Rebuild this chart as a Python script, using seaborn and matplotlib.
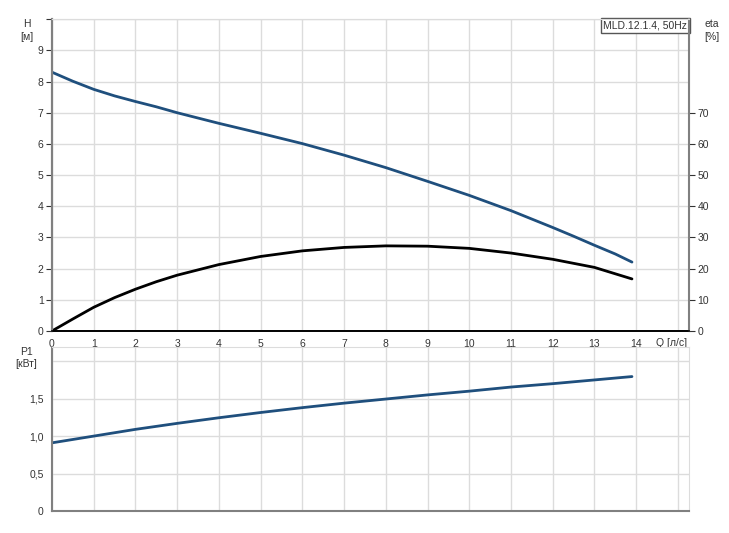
import numpy as np
import pandas as pd
import matplotlib
matplotlib.use("Agg")
import matplotlib.pyplot as plt
import seaborn as sns

# Data
q_h = [0, 0.5, 1, 1.5, 2, 2.5, 3, 4, 5, 6, 7, 8, 9, 10, 11, 12, 12.5, 13, 13.5, 13.9]
head = [8.3, 8.01, 7.75, 7.54, 7.36, 7.19, 7.0, 6.66, 6.34, 6.01, 5.64, 5.24, 4.8, 4.35, 3.86, 3.32, 3.04, 2.75, 2.47, 2.21]

q_eta = [0, 0.5, 1, 1.5, 2, 2.5, 3, 4, 5, 6, 7, 8, 9, 10, 11, 12, 13, 13.9]
eta = [0, 3.85, 7.6, 10.7, 13.4, 15.8, 17.9, 21.3, 23.9, 25.7, 26.8, 27.3, 27.2, 26.5, 25.0, 23.0, 20.4, 16.7]

q_p = [0, 1, 2, 3, 4, 5, 6, 7, 8, 9, 10, 11, 12, 13, 13.9]
p1 = [0.91, 1.0, 1.09, 1.17, 1.245, 1.315, 1.38, 1.44, 1.495, 1.55, 1.60, 1.655, 1.70, 1.75, 1.795]

x_ticks = list(range(0, 15))
h_ticks = list(range(0, 10))
eta_ticks = [0, 10, 20, 30, 40, 50, 60, 70]
p_ticks = [0, 0.5, 1.0, 1.5, 2.0]
p_labels = ["0", "0,5", "1,0", "1,5", ""]

df_h = pd.DataFrame({"Q": q_h, "H": head})
df_eta = pd.DataFrame({"Q": q_eta, "eta": eta})
df_p = pd.DataFrame({"Q": q_p, "P1": p1})

sns.set_style("white")
plt.rcParams["font.family"] = ["Liberation Sans", "DejaVu Sans"]

BLUE = "#1f4f7d"
GRID = "#dcdcdc"
TXT = "#333333"
XMAX = 15.27

fig = plt.figure(figsize=(7.29, 5.33), dpi=100)
ax = fig.add_axes([0.0713, 0.379, 0.874, 0.585])
ax2 = ax.twinx()
axp = fig.add_axes([0.0713, 0.0413, 0.874, 0.3077])

# top plot: head + efficiency
sns.lineplot(data=df_h, x="Q", y="H", ax=ax, color=BLUE, linewidth=2)
sns.lineplot(data=df_eta, x="Q", y="eta", ax=ax2, color="black", linewidth=2)

ax.set_xlim(0, XMAX)
ax.set_ylim(0, 10)
ax2.set_ylim(0, 100)
ax.set_xticks(x_ticks + [15])
ax.set_xticklabels([str(t) for t in x_ticks] + [""])
ax.set_yticks(h_ticks + [10])
ax.set_yticklabels([str(t) for t in h_ticks] + [""])
ax2.set_yticks(eta_ticks)
ax.grid(True, color=GRID, linewidth=1)
ax.set_xlabel("")
ax.set_ylabel("")
ax2.set_ylabel("")

for a in (ax, ax2):
    for s in a.spines.values():
        s.set_color(GRID)
    a.spines["left"].set_color("#808080")
    a.spines["left"].set_linewidth(1.5)
    a.spines["bottom"].set_color("black")
    a.spines["bottom"].set_linewidth(1.2)
ax2.spines["right"].set_color("#808080")
ax2.spines["right"].set_linewidth(1.5)

ax.tick_params(axis="both", labelsize=7.5, colors=TXT, length=4, width=0.8, pad=2)
ax2.tick_params(axis="y", labelsize=7.5, colors=TXT, length=4, width=0.8, pad=2)

ax.text(-0.04, 1.0, "H\n[м]", transform=ax.transAxes, ha="center", va="top",
        fontsize=7.5, color=TXT, linespacing=1.3)
ax2.text(1.035, 1.0, "eta\n[%]", transform=ax.transAxes, ha="center", va="top",
         fontsize=7.5, color=TXT, linespacing=1.3)
ax.text(14.85, -0.22, "Q [л/с]", ha="center", va="top", fontsize=7.5, color=TXT)
ax.text(0.997, 0.995, "MLD.12.1.4, 50Hz", transform=ax.transAxes, ha="right", va="top",
        fontsize=7.5, color=TXT,
        bbox=dict(boxstyle="square,pad=0.25", facecolor="white", edgecolor="#555555", linewidth=1))

# bottom plot: power
sns.lineplot(data=df_p, x="Q", y="P1", ax=axp, color=BLUE, linewidth=2)
axp.set_xlim(0, XMAX)
axp.set_ylim(0, 2.19)
axp.set_xticks(x_ticks + [15])
axp.set_xticklabels([])
axp.set_yticks(p_ticks)
axp.set_yticklabels(p_labels)
axp.grid(True, color=GRID, linewidth=1)
axp.set_xlabel("")
axp.set_ylabel("")
for s in axp.spines.values():
    s.set_color(GRID)
axp.spines["left"].set_color("#808080")
axp.spines["left"].set_linewidth(1.5)
axp.spines["bottom"].set_color("#808080")
axp.spines["bottom"].set_linewidth(1.5)
axp.tick_params(axis="y", labelsize=7.5, colors=TXT, length=4, width=0.8, pad=2)
axp.tick_params(axis="x", length=0)
axp.text(-0.04, 1.0, "P1\n[кВт]", transform=axp.transAxes, ha="center", va="top",
         fontsize=7.5, color=TXT, linespacing=1.3)

fig.savefig("out.png", dpi=100)
